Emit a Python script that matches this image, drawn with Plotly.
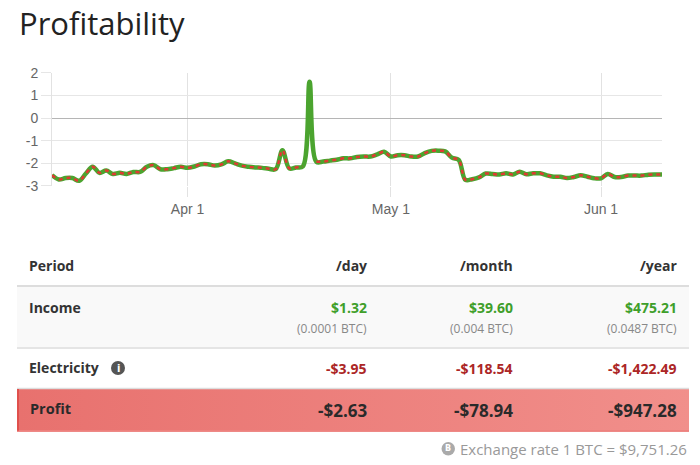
import pandas as pd
import plotly.graph_objects as go

W, H = 700, 465

# daily profit in USD (Mar 12 .. Jun 10)
start_date = "2020-03-12"
profit_usd = [-2.52, -2.71, -2.65, -2.65, -2.77, -2.45, -2.15, -2.42, -2.32, -2.47,
              -2.42, -2.47, -2.38, -2.38, -2.15, -2.08, -2.26, -2.26, -2.21, -2.15,
              -2.20, -2.14, -2.04, -2.04, -2.10, -2.05, -1.91, -2.00, -2.10, -2.15,
              -2.18, -2.20, -2.24, -2.26, -1.42, -2.22, -2.18, -2.14, 1.60, -1.93,
              -1.92, -1.88, -1.84, -1.78, -1.78, -1.72, -1.70, -1.70, -1.60, -1.49,
              -1.70, -1.64, -1.64, -1.70, -1.70, -1.55, -1.45, -1.44, -1.47, -1.75,
              -1.85, -2.73, -2.70, -2.62, -2.45, -2.47, -2.49, -2.44, -2.49, -2.37,
              -2.48, -2.44, -2.44, -2.53, -2.59, -2.59, -2.65, -2.60, -2.53, -2.59,
              -2.66, -2.66, -2.47, -2.60, -2.60, -2.54, -2.54, -2.54, -2.50, -2.49,
              -2.49]
x_ticks = ["2020-04-01", "2020-05-01", "2020-06-01"]
x_tick_labels = ["Apr 1", "May 1", "Jun 1"]
y_ticks = [-3, -2, -1, 0, 1, 2]
y_tick_labels = ["-3", "-2", "-1", "0", "1", "2"]

# table
periods = ["/day", "/month", "/year"]
income = ["$1.32", "$39.60", "$475.21"]
income_btc = ["(0.0001 BTC)", "(0.004 BTC)", "(0.0487 BTC)"]
electricity = ["-$3.95", "-$118.54", "-$1,422.49"]
profit = ["-$2.63", "-$78.94", "-$947.28"]
exchange_rate = "Exchange rate 1 BTC = $9,751.26"

dates = pd.date_range(start_date, periods=len(profit_usd), freq="D")
# the dotted series has no point on the positive spike
profit_dotted = [v if v < 0 else None for v in profit_usd]


def px(x):
    return x / W


def py(y):
    # page y (px from top) -> paper fraction, corrected for how the page is photographed
    return 1 - ((y - 8) / 0.9656) / H


def text(s, x, y, anchor, size, color, family="Open Sans"):
    return dict(text=s, x=px(x), y=py(y), xref="paper", yref="paper",
                xanchor=anchor, yanchor="middle", showarrow=False,
                font=dict(family=family, size=size, color=color))


def rect(x0, x1, y0, y1, color, kind="rect", layer="above"):
    return dict(type=kind, xref="paper", yref="paper", x0=px(x0), x1=px(x1),
                y0=py(y1), y1=py(y0), fillcolor=color, line=dict(width=0), layer=layer)


def hline(x0, x1, y, color, width):
    return dict(type="line", xref="paper", yref="paper", x0=px(x0), x1=px(x1),
                y0=py(y), y1=py(y), line=dict(color=color, width=width))


GREEN = "#3f9f2a"
RED = "#ac2626"
L, R = 17, 689
col_right = [369, 515, 679]

fig = go.Figure()

# profit row background (gradient), on its own hidden axes
fig.add_trace(go.Scatter(x=[0, 1, 1, 0, 0], y=[0, 0, 1, 1, 0], xaxis="x2", yaxis="y2",
                         mode="lines", line=dict(width=0), fill="toself",
                         fillgradient=dict(type="horizontal",
                                           colorscale=[[0, "rgb(232,113,110)"], [1, "rgb(241,143,139)"]]),
                         hoverinfo="skip"))

fig.add_trace(go.Scatter(x=dates, y=profit_usd, mode="lines",
                         line=dict(color="#4ba42f", width=4.5, shape="spline", smoothing=1),
                         hoverinfo="skip"))
fig.add_trace(go.Scatter(x=dates, y=profit_dotted, mode="lines",
                         line=dict(color="#e03a33", width=2.5, shape="spline", smoothing=1,
                                   dash="4px,4px"),
                         hoverinfo="skip", connectgaps=False))

shapes = []
ann = []

ann.append(text("Profitability", 17, 23, "left", 31, "#222"))

# header
ann.append(text("<b>Period</b>", 27, 266, "left", 14, "#333"))
for p, xr in zip(periods, col_right):
    ann.append(text("<b>%s</b>" % p, xr, 266, "right", 14, "#333"))
shapes.append(hline(L, R, 286, "#dddddd", 2))

# income row
shapes.append(rect(L, R, 287, 347, "#f9f9f9", layer="below"))
ann.append(text("<b>Income</b>", 27, 308, "left", 14, "#333"))
for v, b, xr in zip(income, income_btc, col_right):
    ann.append(text("<b>%s</b>" % v, xr, 308, "right", 14, GREEN))
    ann.append(text(b, xr, 328.5, "right", 12, "#888"))
shapes.append(hline(L, R, 348, "#dddddd", 1.5))

# electricity row
ann.append(text("<b>Electricity</b>", 27, 368, "left", 14, "#333"))
shapes.append(rect(111, 125, 361, 375, "#555555", kind="circle"))
ann.append(text("<b>i</b>", 118, 368.5, "center", 10, "white", "DejaVu Sans"))
for v, xr in zip(electricity, col_right):
    ann.append(text("<b>%s</b>" % v, xr, 369, "right", 14, RED))
shapes.append(hline(L, R, 388.5, "#dddddd", 1.5))

# profit row
shapes.append(rect(L, L + 2, 389, 431, "#e0504c"))
shapes.append(hline(L, R, 431, "#e8625e", 1.5))
ann.append(text("<b>Profit</b>", 28, 409, "left", 14.5, "#2a2a2a"))
for v, xr in zip(profit, col_right):
    ann.append(text("<b>%s</b>" % v, xr, 410.5, "right", 17, "#2a2a2a"))

# exchange rate footer
shapes.append(rect(441.5, 455, 442, 455.5, "#aaaaaa", kind="circle"))
ann.append(text("<b>B</b>", 448.3, 448.7, "center", 8, "white", "DejaVu Sans"))
ann.append(text(exchange_rate, 689, 449, "right", 15, "#999"))

fig.update_layout(
    width=W, height=H,
    margin=dict(l=0, r=0, t=0, b=0),
    paper_bgcolor="white", plot_bgcolor="white",
    showlegend=False,
    shapes=shapes, annotations=ann,
    xaxis=dict(domain=[px(52), px(662)], range=[dates[0], dates[-1]], type="date",
               tickvals=x_ticks, ticktext=x_tick_labels,
               showgrid=True, gridcolor="#e2e2e2", ticks="outside", ticklen=10, tickcolor="#e2e2e2",
               tickfont=dict(family="Liberation Sans", size=14, color="#666"),
               zeroline=False, showline=False, fixedrange=True),
    yaxis=dict(domain=[py(186), py(72.7)], range=[-3, 2], tickvals=y_ticks, ticktext=y_tick_labels,
               showgrid=True, gridcolor="#e6e6e6", gridwidth=1.5, ticks="outside", ticklen=10,
               tickcolor="#e6e6e6",
               zeroline=True, zerolinecolor="#b5b5b5", zerolinewidth=1,
               showline=True, linecolor="#e2e2e2", linewidth=1,
               tickfont=dict(family="Liberation Sans", size=14, color="#666"), fixedrange=True),
    xaxis2=dict(domain=[px(L), px(R)], range=[0, 1], visible=False, fixedrange=True),
    yaxis2=dict(domain=[py(430.5), py(389)], range=[0, 1], visible=False, fixedrange=True),
)

fig.write_html("out.html", config={"displayModeBar": False, "staticPlot": True},
               post_script="document.body.style.margin='0';")
